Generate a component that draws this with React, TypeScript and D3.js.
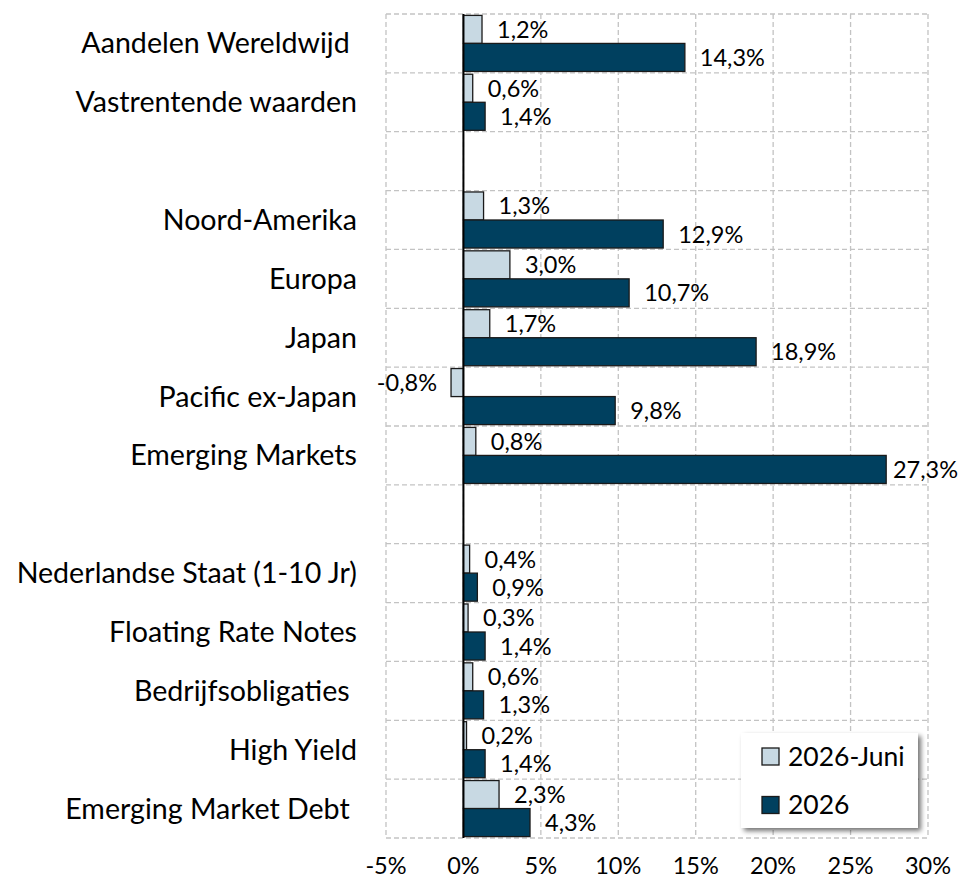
import React from "react";
import * as d3 from "d3";

const categories = [
  "Aandelen Wereldwijd ",
  "Vastrentende waarden",
  "",
  "Noord-Amerika",
  "Europa",
  "Japan",
  "Pacific ex-Japan",
  "Emerging Markets",
  " ",
  "Nederlandse Staat (1-10 Jr)",
  "Floating Rate Notes",
  "Bedrijfsobligaties ",
  "High Yield",
  "Emerging Market Debt ",
];
const seriesNames = ["2026-Juni", "2026"];
const juniValues: (number | null)[] = [1.2, 0.6, null, 1.3, 3.0, 1.7, -0.8, 0.8, null, 0.4, 0.3, 0.6, 0.2, 2.3];
const yearValues: (number | null)[] = [14.3, 1.4, null, 12.9, 10.7, 18.9, 9.8, 27.3, null, 0.9, 1.4, 1.3, 1.4, 4.3];
const tickValues = [-5, 0, 5, 10, 15, 20, 25, 30];
const colors = ["#c8d9e3", "#00405f"];

const W = 959;
const H = 882;
const FONT = "Lato, 'Open Sans', sans-serif";

export default function App() {
  const left = 386, right = 928, top = 14, bottom = 838;
  const x = d3.scaleLinear().domain([-5, 30]).range([left, right]);
  const rowKeys = categories.map((_, i) => String(i));
  const y0 = d3.scaleBand().domain(rowKeys).range([top, bottom]).padding(0);
  const y1 = d3.scaleBand().domain(seriesNames).range([0, y0.bandwidth()]).paddingInner(0).paddingOuter(0.05);
  const series = [juniValues, yearValues];
  const fmt = (v: number) => d3.format(".1f")(v).replace(".", ",").replace("−", "-") + "%";

  return (
    <svg width={W} height={H} style={{ display: "block", position: "absolute", left: 0, top: 0 }} fontFamily={FONT}>
      <defs>
        <filter id="shadow" x="-10%" y="-10%" width="130%" height="130%">
          <feGaussianBlur in="SourceAlpha" stdDeviation="2.5" />
          <feOffset dx="3" dy="3" result="b" />
          <feComponentTransfer><feFuncA type="linear" slope="0.55" /></feComponentTransfer>
          <feMerge><feMergeNode /><feMergeNode in="SourceGraphic" /></feMerge>
        </filter>
      </defs>
      <rect width={W} height={H} fill="#fff" />
      {/* grid */}
      <g stroke="#c3c3c3" strokeWidth={1.3} strokeDasharray="5,3" fill="none">
        {tickValues.map((t) => (
          <line key={"v" + t} x1={x(t)} x2={x(t)} y1={top} y2={bottom} />
        ))}
        {rowKeys.map((k) => (
          <line key={"h" + k} x1={left} x2={right} y1={y0(k)!} y2={y0(k)!} />
        ))}
        <line x1={left} x2={right} y1={bottom} y2={bottom} />
      </g>
      {/* bars */}
      {series.map((vals, si) =>
        vals.map((v, i) => {
          if (v === null) return null;
          const yy = y0(String(i))! + y1(seriesNames[si])!;
          const x0 = x(Math.min(0, v));
          const x1v = x(Math.max(0, v));
          return (
            <rect key={si + "-" + i} x={x0} y={yy} width={x1v - x0} height={y1.bandwidth()}
              fill={colors[si]} stroke="#1a1a1a" strokeWidth={1.3} />
          );
        })
      )}
      {/* zero axis */}
      <line x1={x(0)} x2={x(0)} y1={top} y2={bottom} stroke="#000" strokeWidth={2} />
      {/* value labels */}
      {series.map((vals, si) =>
        vals.map((v, i) => {
          if (v === null) return null;
          const cy = y0(String(i))! + y1(seriesNames[si])! + y1.bandwidth() / 2;
          const label = fmt(v);
          let tx = v >= 0 ? x(v) + 15 : x(v) - 14;
          let anchor: any = v >= 0 ? "start" : "end";
          const est = label.length * 12.5;
          if (v >= 0 && tx + est > W - 1) { tx = W - 1; anchor = "end"; }
          return (
            <text key={"l" + si + "-" + i} x={tx} y={cy + 8.5} fontSize={23.5} textAnchor={anchor} fill="#000">
              {label}
            </text>
          );
        })
      )}
      {/* category labels */}
      {categories.map((c, i) => (
        <text key={"c" + i} x={357} y={y0(String(i))! + y0.bandwidth() / 2 + 10} fontSize={28.6}
          textAnchor="end" fill="#000" style={{ whiteSpace: "pre" }}>
          {c}
        </text>
      ))}
      {/* x tick labels */}
      {tickValues.map((t) => (
        <text key={"t" + t} x={x(t)} y={874} fontSize={23.5} textAnchor="middle" fill="#000">
          {t + "%"}
        </text>
      ))}
      {/* legend */}
      <g>
        <rect x={741} y={733} width={177} height={95} fill="#fff" filter="url(#shadow)" />
        {seriesNames.map((s, i) => (
          <g key={"lg" + s} transform={`translate(762, ${748 + i * 48.5})`}>
            <rect x={0} y={0} width={17} height={17} fill={colors[i]} stroke="#1a1a1a" strokeWidth={1.3} />
            <text x={26} y={17.5} fontSize={26.5} fill="#000">{s}</text>
          </g>
        ))}
      </g>
    </svg>
  );
}
